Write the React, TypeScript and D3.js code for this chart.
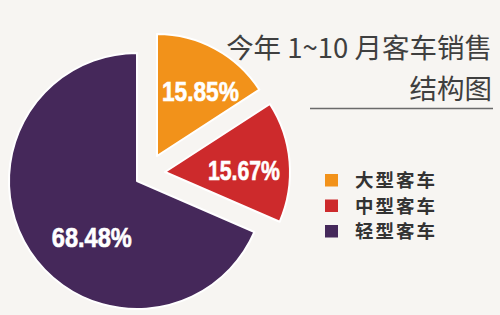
import React from "react";
import * as d3 from "d3";

// Sales structure of passenger vehicles, Jan–Oct
const categories = ["大型客车", "中型客车", "轻型客车"];
const shares = [15.85, 15.67, 68.48];
const valueLabels = ["15.85%", "15.67%", "68.48%"];
const titleLines = ["今年 1~10 月客车销售", "结构图"];

const colors = ["#F2921A", "#CD2A2C", "#45285A"];

// each slice is pulled out from the pie on its own centre and radius
const sliceCenters: [number, number][] = [
  [157, 156],
  [165, 172],
  [137, 181],
];
const sliceRadii = [122, 125, 128];
// where the percentage sits inside each slice (polar, from the slice centre)
const labelPolar: [number, number][] = [
  [0.59, 78],
  [1.55, 79],
  [3.82, 72],
];
// narrow bold figures: squeezed to these widths
const labelWidths = [77, 72, 80];

const W = 500;
const H = 315;

export default function App() {
  const pie = d3
    .pie<number>()
    .sort(null)
    .value((d) => d)
    .startAngle(0)
    .endAngle(2 * Math.PI);
  const arcs = pie(shares);

  const labelFont = "'Liberation Sans', Arial, sans-serif";
  const cjkFont = "'Noto Sans CJK SC', 'Noto Sans', sans-serif";

  return (
    <svg
      width={W}
      height={H}
      viewBox={`0 0 ${W} ${H}`}
      style={{ position: "absolute", left: 0, top: 0, display: "block" }}
    >
      <rect x={0} y={0} width={W} height={H} fill="#F7F5F2" />

      {arcs.map((a, i) => {
        const arc = d3
          .arc<d3.PieArcDatum<number>>()
          .innerRadius(0)
          .outerRadius(sliceRadii[i]);
        const [cx, cy] = sliceCenters[i];
        return (
          <g key={categories[i]} transform={`translate(${cx},${cy})`}>
            <path
              d={arc(a) ?? ""}
              fill={colors[i]}
              stroke="#FFFFFF"
              strokeWidth={2}
              strokeLinejoin="round"
            />
          </g>
        );
      })}

      {arcs.map((a, i) => {
        const [cx, cy] = sliceCenters[i];
        const [ang, dist] = labelPolar[i];
        const x = cx + dist * Math.sin(ang);
        const y = cy - dist * Math.cos(ang);
        return (
          <text
            key={`lbl-${i}`}
            x={x - labelWidths[i] / 2}
            y={y}
            dy="0.36em"
            fill="#FFFFFF"
            stroke="#FFFFFF"
            strokeWidth={0.6}
            fontFamily={labelFont}
            fontWeight="bold"
            fontSize={27}
            textLength={labelWidths[i]}
            lengthAdjust="spacingAndGlyphs"
          >
            {valueLabels[i]}
          </text>
        );
      })}

      {/* title */}
      <text
        x={492}
        y={58}
        textAnchor="end"
        fill="#3F3F3F"
        fontFamily={cjkFont}
        fontSize={27.5}
      >
        {titleLines[0]}
      </text>
      <text
        x={492}
        y={99}
        textAnchor="end"
        fill="#3F3F3F"
        fontFamily={cjkFont}
        fontSize={27.5}
      >
        {titleLines[1]}
      </text>
      <line x1={310} x2={493} y1={108.5} y2={108.5} stroke="#6A6A6A" strokeWidth={1.5} />

      {/* legend */}
      {categories.map((c, i) => (
        <g key={`lg-${c}`} transform={`translate(325,${174 + i * 25.5})`}>
          <rect width={13} height={12.5} fill={colors[i]} />
          <text
            x={30}
            y={6.5}
            dy="0.36em"
            fill="#333333"
            fontFamily={cjkFont}
            fontWeight={600}
            fontSize={18.5}
            letterSpacing={2}
          >
            {c}
          </text>
        </g>
      ))}
    </svg>
  );
}
